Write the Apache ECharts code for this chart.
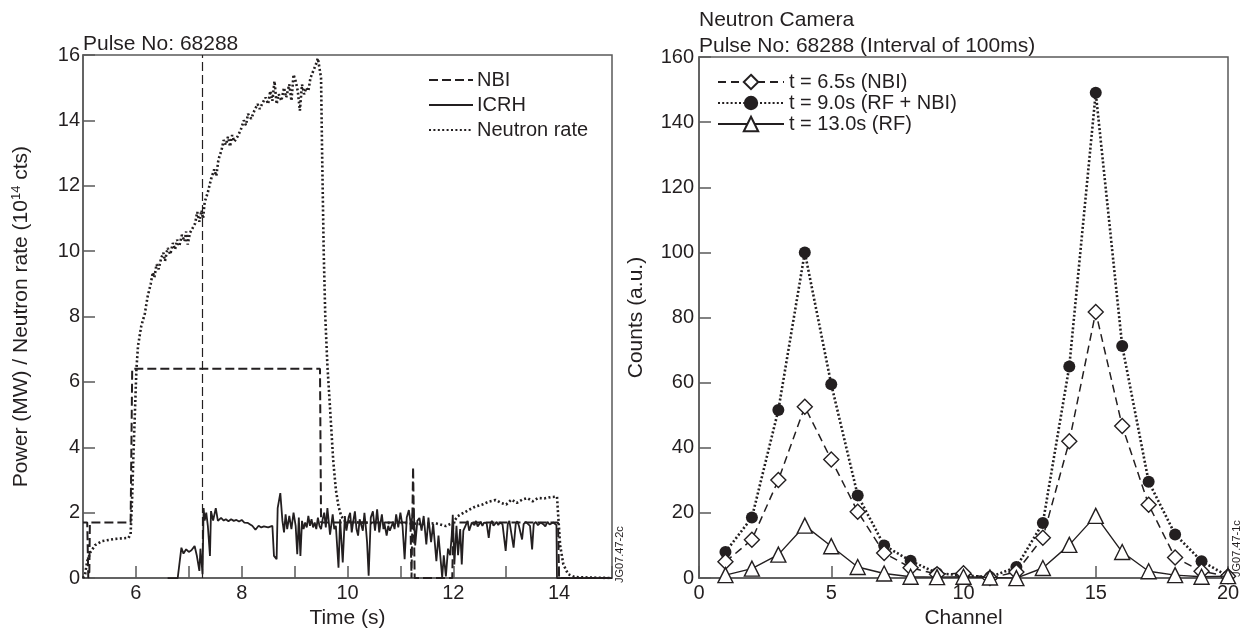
<!DOCTYPE html>
<html>
<head>
<meta charset="utf-8">
<script src="https://cdn.jsdelivr.net/npm/echarts@6/dist/echarts.min.js"></script>
<style>
html,body{margin:0;padding:0;background:#fff;}
#c{width:1245px;height:634px;}
</style>
</head>
<body>
<div id="c"></div>
<script>
// ---------- Left panel data: Pulse No 68288 time traces ----------
const timeTicks = [6, 8, 10, 12, 14];
const markerTime = [7.25];
const nbiData = [[5.0,1.7],[5.08,1.7],[5.1,0.0],[5.12,0.2],[5.13,1.7],[5.9,1.7],[5.93,6.4],[9.48,6.4],[9.5,1.7],[11.19,1.7],[11.21,0.0],[11.24,3.4],[11.27,0.0],[11.98,0.0],[12.0,1.7],[13.98,1.7],[14.0,0.0],[15.0,0.0]];
const icrhData = [[6.6,0],[6.79,0],[6.86,0.93],[6.9,0.75],[6.95,0.88],[7.0,0.8],[7.05,0.85],[7.11,0.98],[7.15,0.7],[7.2,0.22],[7.22,0.9],[7.26,0.12],[7.28,2.14],[7.3,1.76],[7.33,2.0],[7.36,1.6],[7.4,0.68],[7.42,2.05],[7.46,1.76],[7.51,2.14],[7.55,1.75],[7.61,1.84],[7.66,1.76],[7.7,1.8],[7.75,1.74],[7.8,1.8],[7.85,1.75],[7.9,1.78],[7.95,1.73],[8.0,1.78],[8.05,1.7],[8.11,1.69],[8.16,1.64],[8.2,1.6],[8.26,1.48],[8.32,1.6],[8.37,1.55],[8.42,1.58],[8.5,1.55],[8.58,1.6],[8.61,0.68],[8.66,0.58],[8.68,2.14],[8.73,2.6],[8.77,1.75],[8.8,1.4],[8.83,1.95],[8.86,1.5],[8.9,1.9],[8.94,1.5],[8.98,2.0],[9.02,1.6],[9.05,0.73],[9.08,1.85],[9.11,0.68],[9.14,1.75],[9.17,1.5],[9.2,1.7],[9.23,1.55],[9.26,1.9],[9.29,1.6],[9.32,1.8],[9.35,1.55],[9.38,1.7],[9.41,1.5],[9.44,1.85],[9.47,1.6],[9.5,1.5],[9.53,1.8],[9.56,2.0],[9.59,1.55],[9.62,2.14],[9.67,1.33],[9.72,1.95],[9.75,1.5],[9.78,1.6],[9.83,0.32],[9.86,1.8],[9.91,0.48],[9.95,1.9],[9.98,1.45],[10.02,1.85],[10.05,2.0],[10.08,1.4],[10.11,1.75],[10.14,2.04],[10.17,1.5],[10.2,1.3],[10.23,1.8],[10.26,1.75],[10.29,1.45],[10.32,2.0],[10.35,1.5],[10.37,1.1],[10.4,0.07],[10.44,1.85],[10.48,2.04],[10.52,1.45],[10.56,2.1],[10.6,1.4],[10.63,1.75],[10.65,1.95],[10.68,1.5],[10.7,1.65],[10.74,1.3],[10.77,1.6],[10.8,1.45],[10.83,1.4],[10.86,1.7],[10.89,1.5],[10.92,1.95],[10.96,1.55],[11.0,2.0],[11.04,1.6],[11.08,0.58],[11.12,1.85],[11.16,2.08],[11.2,1.6],[11.23,1.95],[11.25,2.15],[11.28,1.0],[11.32,1.75],[11.36,1.84],[11.4,1.45],[11.44,1.9],[11.49,1.03],[11.53,1.85],[11.58,1.1],[11.62,1.65],[11.68,0.52],[11.72,1.3],[11.79,0.02],[11.82,0.7],[11.86,0.05],[11.9,0.9],[11.94,0.7],[11.97,1.3],[11.99,1.94],[12.02,0.42],[12.06,1.6],[12.09,0.7],[12.13,1.5],[12.16,0.42],[12.19,1.45],[12.23,1.6],[12.27,1.75],[12.3,1.45],[12.35,1.7],[12.4,1.62],[12.43,1.75],[12.46,1.58],[12.52,1.72],[12.55,1.6],[12.58,1.7],[12.63,1.68],[12.67,1.23],[12.7,1.65],[12.73,1.75],[12.76,1.6],[12.82,1.72],[12.85,1.62],[12.88,1.7],[12.93,1.65],[12.99,0.83],[13.03,1.65],[13.06,1.75],[13.09,1.7],[13.14,0.93],[13.18,1.65],[13.21,1.74],[13.24,1.6],[13.3,1.18],[13.33,1.65],[13.37,1.72],[13.4,1.7],[13.45,1.6],[13.49,0.88],[13.52,1.65],[13.56,1.72],[13.6,1.62],[13.65,1.7],[13.7,1.65],[13.74,1.58],[13.78,1.72],[13.82,1.64],[13.85,1.6],[13.89,1.7],[13.92,1.66],[13.95,1.62],[13.96,0],[15.0,0]];
const neutronData = [[5.0,0.0],[5.04,0.12],[5.08,0.52],[5.14,0.79],[5.23,1.01],[5.36,1.13],[5.61,1.2],[5.86,1.23],[5.9,1.35],[5.93,2.5],[5.95,3.6],[5.98,5.0],[6.01,6.4],[6.04,7.1],[6.1,7.7],[6.17,8.1],[6.22,8.6],[6.28,9.0],[6.32,9.35],[6.35,9.2],[6.39,9.6],[6.43,9.45],[6.48,9.8],[6.52,9.95],[6.55,9.7],[6.6,10.1],[6.65,9.9],[6.7,10.25],[6.74,10.05],[6.78,10.35],[6.82,10.15],[6.87,10.5],[6.92,10.3],[6.95,10.6],[6.98,10.2],[7.02,10.55],[7.07,10.7],[7.12,10.85],[7.16,11.2],[7.2,10.9],[7.24,11.25],[7.27,11.0],[7.3,11.5],[7.36,11.8],[7.42,12.2],[7.48,12.5],[7.52,12.3],[7.56,12.8],[7.62,13.1],[7.66,13.4],[7.7,13.25],[7.74,13.5],[7.78,13.2],[7.82,13.55],[7.86,13.35],[7.92,13.5],[7.98,13.7],[8.04,14.0],[8.08,13.85],[8.12,14.2],[8.18,14.05],[8.24,14.3],[8.3,14.5],[8.34,14.35],[8.4,14.55],[8.45,14.7],[8.5,14.5],[8.54,14.9],[8.58,14.6],[8.62,15.2],[8.66,14.5],[8.7,14.8],[8.75,14.6],[8.8,15.0],[8.84,14.7],[8.9,15.1],[8.94,14.6],[8.98,15.4],[9.02,15.2],[9.06,14.9],[9.1,14.3],[9.14,15.1],[9.18,14.8],[9.22,15.0],[9.26,14.9],[9.3,15.3],[9.35,15.5],[9.4,15.7],[9.44,15.9],[9.47,15.6],[9.5,15.3],[9.52,13.0],[9.55,10.0],[9.58,8.0],[9.62,6.5],[9.67,5.2],[9.73,3.6],[9.78,2.7],[9.83,2.2],[9.88,1.9],[9.95,1.75],[10.2,1.7],[10.6,1.68],[11.0,1.7],[11.4,1.65],[11.66,1.68],[11.86,1.59],[12.0,1.7],[12.08,1.89],[12.2,2.0],[12.3,2.09],[12.42,2.19],[12.55,2.25],[12.67,2.34],[12.8,2.39],[12.9,2.3],[13.0,2.25],[13.1,2.4],[13.2,2.3],[13.3,2.4],[13.4,2.45],[13.5,2.35],[13.6,2.45],[13.73,2.44],[13.85,2.48],[13.96,2.49],[13.99,1.74],[14.02,1.0],[14.08,0.42],[14.17,0.12],[14.3,0.03],[15.0,0.0]];

// ---------- Right panel data: Neutron camera channels ----------
const channels = [1,2,3,4,5,6,7,8,9,10,11,12,13,14,15,16,17,18,19,20];
const countsNBI  = [5.0,11.8,30.1,52.6,36.4,20.4,7.7,3.2,1.2,1.5,0.0,1.9,12.4,42.0,81.7,46.7,22.5,6.3,2.1,0.6];
const countsRFNBI= [8.0,18.6,51.6,100.0,59.5,25.4,10.0,5.3,1.5,0.8,0.3,3.4,16.9,65.0,149.0,71.3,29.6,13.4,5.2,0.6];
const countsRF   = [0.9,2.9,7.2,16.1,9.8,3.4,1.4,0.4,0.3,0.4,0.2,0.0,3.1,10.2,19.1,8.0,2.1,0.9,0.4,0.6];
const legendLeft = ['NBI','ICRH','Neutron rate'];
const legendRight = ['t = 6.5s (NBI)','t = 9.0s (RF + NBI)','t = 13.0s (RF)'];

const INK = '#231f20';
const AX = '#5a5a5a';
const FONT = "'Liberation Sans', Arial, Helvetica, sans-serif";
const pair = (xs, ys) => xs.map((x, i) => [x, ys[i]]);

const chart = echarts.init(document.getElementById('c'), null, {renderer: 'canvas'});

const axisCommon = {
  axisLine: {show: true, lineStyle: {color: AX, width: 1.5}},
  axisTick: {show: true, inside: true, length: 12, lineStyle: {color: AX, width: 1.5}},
  axisLabel: {color: INK, fontSize: 20, fontFamily: FONT},
  splitLine: {show: false},
  nameTextStyle: {color: INK, fontSize: 21, fontFamily: FONT}
};

const option = {
  backgroundColor: '#fff',
  animation: false,
  textStyle: {fontFamily: FONT, color: INK},
  title: [
    {text: 'Pulse No: 68288', left: 83, top: 34, padding: 0,
     textStyle: {fontSize: 21, fontWeight: 'normal', color: INK, fontFamily: FONT}},
    {text: 'Neutron Camera\nPulse No: 68288 (Interval of 100ms)', left: 699, top: 7, padding: 0,
     textStyle: {fontSize: 21, fontWeight: 'normal', color: INK, fontFamily: FONT, lineHeight: 26}}
  ],
  legend: [
    {data: legendLeft, orient: 'vertical', left: 428, top: 70, padding: 0, itemWidth: 44, itemHeight: 14, itemGap: 5,
     itemStyle: {color: 'rgba(0,0,0,0)', borderColor: 'rgba(0,0,0,0)', borderWidth: 0, opacity: 0},
     textStyle: {fontSize: 20, color: INK, fontFamily: FONT, padding: [0,0,0,-1]}, selectedMode: false},
    {data: legendRight, orient: 'vertical', left: 717, top: 72, padding: 0, itemWidth: 66, itemHeight: 18, itemGap: 1,
     textStyle: {fontSize: 20, color: INK, fontFamily: FONT}, selectedMode: false}
  ],
  grid: [
    {left: 83, right: 633, top: 55, bottom: 50, show: true, borderColor: AX, borderWidth: 1.5},
    {left: 699, right: 17, top: 57, bottom: 51, show: true, borderColor: AX, borderWidth: 1.5}
  ],
  xAxis: [
    Object.assign({}, axisCommon, {
      type: 'value', gridIndex: 0, min: 5, max: 15, interval: 1,
      name: 'Time (s)', nameLocation: 'middle', nameGap: 29,
      axisLabel: Object.assign({}, axisCommon.axisLabel, {margin: 5,
        formatter: v => (timeTicks.indexOf(v) >= 0 ? String(v) : '')})
    }),
    Object.assign({}, axisCommon, {
      type: 'value', gridIndex: 1, min: 0, max: 20, interval: 5,
      name: 'Channel', nameLocation: 'middle', nameGap: 29,
      axisLabel: Object.assign({}, axisCommon.axisLabel, {margin: 5})
    })
  ],
  yAxis: [
    Object.assign({}, axisCommon, {
      type: 'value', gridIndex: 0, min: 0, max: 16, interval: 2,
      name: 'Power (MW) / Neutron rate (10{sup|14} cts)', nameLocation: 'middle', nameGap: 50,
      nameTextStyle: {color: INK, fontSize: 21, fontFamily: FONT,
        rich: {sup: {fontSize: 13, color: INK, fontFamily: FONT, verticalAlign: 'top', padding: [0, 0, 10, 0]}}},
      axisLabel: Object.assign({}, axisCommon.axisLabel, {margin: 3})
    }),
    Object.assign({}, axisCommon, {
      type: 'value', gridIndex: 1, min: 0, max: 160, interval: 20,
      name: 'Counts (a.u.)', nameLocation: 'middle', nameGap: 52,
      axisLabel: Object.assign({}, axisCommon.axisLabel, {margin: 5})
    })
  ],
  series: [
    {name: 'NBI', type: 'line', xAxisIndex: 0, yAxisIndex: 0, data: nbiData, symbol: 'none',
     lineStyle: {color: INK, width: 2, type: [9, 4]}, itemStyle: {color: INK}, z: 3,
     markLine: {silent: true, symbol: ['none', 'none'], label: {show: false},
       lineStyle: {color: INK, width: 1.2, type: [9, 4]},
       data: markerTime.map(t => ({xAxis: t}))}},
    {name: 'ICRH', type: 'line', xAxisIndex: 0, yAxisIndex: 0, data: icrhData, symbol: 'none',
     lineStyle: {color: INK, width: 1.8, type: 'solid'}, itemStyle: {color: INK}, z: 4},
    {name: 'Neutron rate', type: 'line', xAxisIndex: 0, yAxisIndex: 0, data: neutronData, symbol: 'none',
     lineStyle: {color: INK, width: 2.6, type: [2, 2.4]}, itemStyle: {color: INK}, z: 5},

    {name: 't = 6.5s (NBI)', type: 'line', xAxisIndex: 1, yAxisIndex: 1, data: pair(channels, countsNBI),
     symbol: 'diamond', symbolSize: 15, showAllSymbol: true,
     lineStyle: {color: INK, width: 1.5, type: [8, 5]},
     itemStyle: {color: '#fff', borderColor: INK, borderWidth: 1.4}, z: 4},
    {name: 't = 9.0s (RF + NBI)', type: 'line', xAxisIndex: 1, yAxisIndex: 1, data: pair(channels, countsRFNBI),
     symbol: 'circle', symbolSize: 12, showAllSymbol: true,
     lineStyle: {color: INK, width: 2.6, type: [2, 2.2]},
     itemStyle: {color: INK, borderColor: INK, borderWidth: 0}, z: 3},
    {name: 't = 13.0s (RF)', type: 'line', xAxisIndex: 1, yAxisIndex: 1, data: pair(channels, countsRF),
     symbol: 'triangle', symbolSize: 15, showAllSymbol: true,
     lineStyle: {color: INK, width: 1.4, type: 'solid'},
     itemStyle: {color: '#fff', borderColor: INK, borderWidth: 1.4}, z: 5}
  ],
  graphic: [
    {type: 'text', x: 614, y: 583, rotation: Math.PI / 2,
     style: {text: 'JG07.47-2c', fontSize: 11, fill: INK, fontFamily: FONT}},
    {type: 'text', x: 1231, y: 577, rotation: Math.PI / 2,
     style: {text: 'JG07.47-1c', fontSize: 11, fill: INK, fontFamily: FONT}}
  ]
};
chart.setOption(option);
</script>
</body>
</html>
